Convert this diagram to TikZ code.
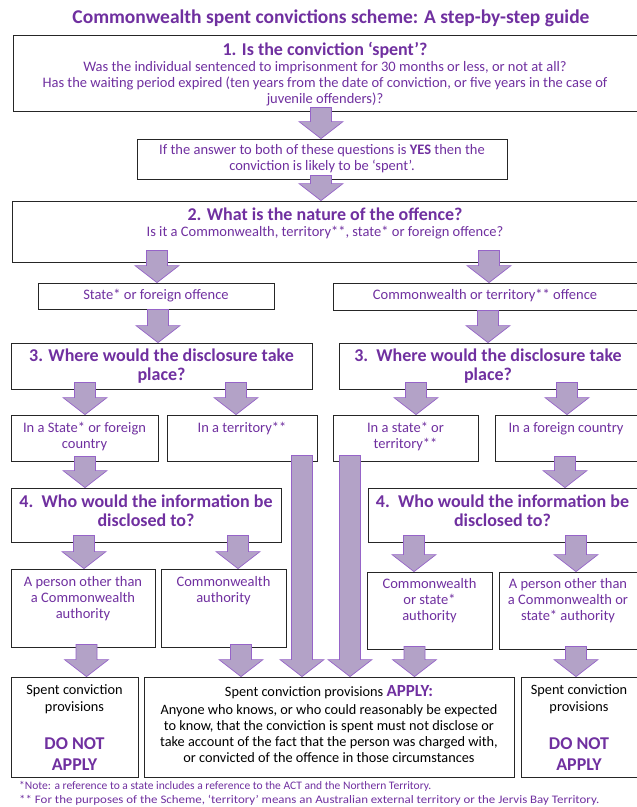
\documentclass[tikz,border=0pt]{standalone}
\usepackage{fontspec}
\setmainfont{Carlito}
\usetikzlibrary{shadows,fit,calc}
\definecolor{ptext}{RGB}{112,48,160}
\definecolor{afill}{RGB}{179,162,199}
\definecolor{aline}{RGB}{150,100,200}
\tikzset{
  box/.style={draw=black!85, line width=0.8pt, fill=white, inner sep=0pt,
    drop shadow={shadow xshift=1pt, shadow yshift=-1pt, fill=black!25}},
  arrowsty/.style={fill=afill, draw=aline, line width=0.7pt, line join=miter},
  body/.style={text=ptext, font=\fontsize{14.5}{16}\selectfont, align=center, inner sep=0pt, anchor=north},
  blk/.style={text=black, font=\fontsize{14.3}{17}\selectfont, align=center, inner sep=0pt, anchor=north},
  head/.style={text=ptext, font=\bfseries\fontsize{18}{19}\selectfont, align=center, inner sep=0pt, anchor=north},
  foot/.style={text=ptext, font=\fontsize{11.5}{13}\selectfont, inner sep=0pt, anchor=north west},
}
\newcommand\mkbox[5]{\node[box, fit={(#2,#3) (#4,#5)}] (#1) {};}
% block arrow: x, source node, overlap into source, target node
\newcommand\blockarrow[4]{%
  \draw[arrowsty] let \p1=(#2.south), \p2=(#4.north) in
    (#1pt-10.5pt,\y1+#3pt) -- (#1pt+10.5pt,\y1+#3pt) -- (#1pt+10.5pt,\y2+17pt)
    -- (#1pt+22pt,\y2+17pt) -- (#1pt,\y2) -- (#1pt-22pt,\y2+17pt)
    -- (#1pt-10.5pt,\y2+17pt) -- cycle;}
\begin{document}
\begin{tikzpicture}[x=1pt,y=-1pt]
\useasboundingbox[fill=white] (0,0) rectangle (637,807);

% boxes
\mkbox{b1}{13}{35}{637.5}{111}
\mkbox{bif}{137}{139}{507}{179}
\mkbox{b2}{12}{201}{637.5}{262}
\mkbox{bst}{38}{283}{274}{309}
\mkbox{bcw}{333}{283}{637.5}{310}
\mkbox{b3l}{11}{343}{312}{389}
\mkbox{b3r}{339}{343}{637.5}{389}
\mkbox{r3a}{11}{415}{158}{461}
\mkbox{r3b}{167}{415}{317}{461}
\mkbox{r3c}{333}{415}{478}{461}
\mkbox{r3d}{495}{415}{637.5}{461}
\mkbox{b4l}{11}{488}{281}{542}
\mkbox{b4r}{368}{488}{637.5}{542}
\mkbox{r4a}{11}{569}{155}{647}
\mkbox{r4b}{161}{569}{286}{647}
\mkbox{r4c}{367}{572}{492}{649}
\mkbox{r4d}{499}{572}{637.5}{649}
\mkbox{bl}{11}{677}{138}{777}
\mkbox{bm}{144}{677}{514}{777}
\mkbox{br}{521}{677}{637.5}{777}

% arrows
\blockarrow{321}{b1}{4}{bif}
\blockarrow{321}{bif}{4}{b2}
\blockarrow{157}{b2}{12}{bst}
\blockarrow{489}{b2}{12}{bcw}
\blockarrow{158}{bst}{0}{b3l}
\blockarrow{488}{bcw}{0}{b3r}
\blockarrow{85}{b3l}{7}{r3a}
\blockarrow{236}{b3l}{7}{r3b}
\blockarrow{416}{b3r}{7}{r3c}
\blockarrow{567}{b3r}{7}{r3d}
\blockarrow{85}{r3a}{5}{b4l}
\blockarrow{565}{r3d}{5}{b4r}
\blockarrow{84}{b4l}{7}{r4a}
\blockarrow{238}{b4l}{7}{r4b}
\blockarrow{414}{b4r}{7}{r4c}
\blockarrow{576}{b4r}{7}{r4d}
\blockarrow{86.5}{r4a}{3}{bl}
\blockarrow{241}{r4b}{3}{bm}
\blockarrow{414.5}{r4c}{3}{bm}
\blockarrow{576}{r4d}{3}{br}
\blockarrow{302}{r3b}{6}{bm}
\blockarrow{350}{r3c}{6}{bm}

% texts
\node[head, font=\bfseries\fontsize{19.5}{21}\selectfont] (title) at (331,10)
  {Commonwealth spent convictions scheme: A step-by-step guide};
\node[head] (t1) at (325,41.8) {1. Is the conviction ‘spent’?};
\node[body] (t1b) at (325,61.2) {Was the individual sentenced to imprisonment for 30 months or less, or not at all?\\
  Has the waiting period expired (ten years from the date of conviction, or five years in the case of\\
  juvenile offenders)?};
\node[body] (tif) at (322,144.2) {If the answer to both of these questions is \textbf{YES} then the\\conviction is likely to be ‘spent’.};
\node[head] (t2) at (325,207.8) {2. What is the nature of the offence?};
\node[body] (t2b) at (325,226.2) {Is it a Commonwealth, territory**, state* or foreign offence?};
\node[body] (tst) at (156,289.2) {State* or foreign offence};
\node[body] (tcw) at (485,289.2) {Commonwealth or territory** offence};
\node[head] (t3l) at (161.5,348.8) {3. Where would the disclosure take\\place?};
\node[head] (t3r) at (488,348.8) {3.\ \ Where would the disclosure take\\place?};
\node[body] (t3a) at (84.5,422.2) {In a State* or foreign\\country};
\node[body] (t3b) at (242,422.2) {In a territory**};
\node[body] (t3c) at (405.5,422.2) {In a state* or\\territory**};
\node[body] (t3d) at (566,422.2) {In a foreign country};
\node[head] (t4l) at (146,494.8) {4.\ \ Who would the information be\\disclosed to?};
\node[head] (t4r) at (502.5,494.8) {4.\ \ Who would the information be\\disclosed to?};
\node[body] (t4a) at (83,576.2) {A person other than\\a Commonwealth\\authority};
\node[body] (t4b) at (223.5,576.2) {Commonwealth\\authority};
\node[body] (t4c) at (429.5,578.2) {Commonwealth\\or state*\\authority};
\node[body] (t4d) at (568,578.2) {A person other than\\a Commonwealth or\\state* authority};
\node[blk] (tbl) at (74.5,684) {Spent conviction\\provisions};
\node[head, font=\bfseries\fontsize{18}{20.5}\selectfont] (tbl2) at (74.5,737.8) {DO NOT\\APPLY};
\node[blk] (tbr) at (579,684) {Spent conviction\\provisions};
\node[head, font=\bfseries\fontsize{18}{20.5}\selectfont] (tbr2) at (579,737.8) {DO NOT\\APPLY};
\node[blk] (tbm) at (329,685) {Spent conviction provisions {\color{ptext}\bfseries\fontsize{17}{17}\selectfont APPLY:}};
\node[blk, font=\fontsize{14.3}{15.7}\selectfont] (tbm2) at (329,704.8) {Anyone who knows, or who could reasonably be expected\\
  to know, that the conviction is spent must not disclose or\\
  take account of the fact that the person was charged with,\\
  or convicted of the offence in those circumstances};
\node[foot] (f1) at (19,781) {\resizebox{412pt}{\height}{*Note: a reference to a state includes a reference to the ACT and the Northern Territory.}};
\node[foot] (f2) at (19,795) {\resizebox{580pt}{\height}{** For the purposes of the Scheme, ‘territory’ means an Australian external territory or the Jervis Bay Territory.}};
\end{tikzpicture}
\end{document}
